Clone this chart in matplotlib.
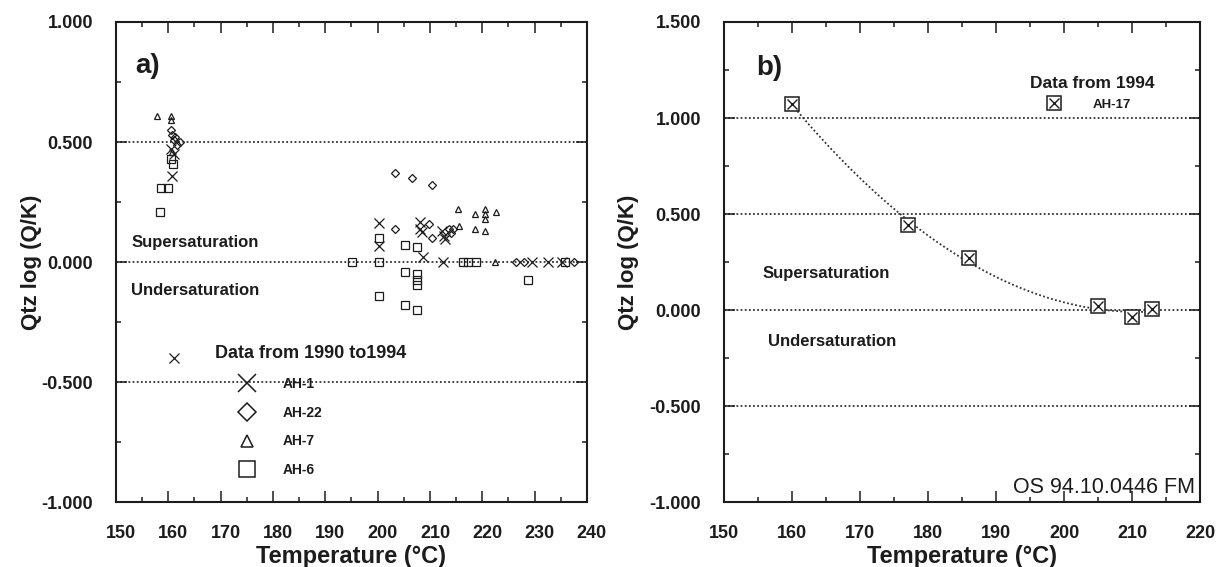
import numpy as np
import matplotlib
matplotlib.use("Agg")
import matplotlib.pyplot as plt
import matplotlib.transforms as mtransforms
from matplotlib.lines import Line2D
from matplotlib.ticker import MultipleLocator, FormatStrFormatter

plt.rcParams['font.family'] = ['Liberation Sans', 'DejaVu Sans']
plt.rcParams['axes.unicode_minus'] = False

INK = '#1c1c1c'

# ---- Panel a: quartz saturation index, wells sampled 1990-1994 ----
ah1_t = [160.5, 161.0, 160.8, 161.1, 200.3, 200.3, 208.1, 208.1, 208.4, 208.6,
         212.3, 212.6, 212.9, 212.5, 229.5, 232.5, 235.2]
ah1_q = [0.47, 0.45, 0.36, -0.40, 0.165, 0.067, 0.168, 0.14, 0.124, 0.022,
         0.13, 0.11, 0.095, 0.0, 0.0, 0.0, 0.0]

ah22_t = [160.5, 160.8, 161.3, 162.2, 161.6, 161.0, 203.3, 206.5, 210.4, 203.3,
          209.9, 210.3, 213.7, 214.4, 214.0, 226.5, 228.0, 237.5]
ah22_q = [0.55, 0.53, 0.52, 0.50, 0.49, 0.51, 0.37, 0.35, 0.32, 0.14,
          0.16, 0.10, 0.14, 0.14, 0.12, 0.0, 0.0, 0.0]

ah7_t = [157.8, 160.5, 160.5, 160.7, 215.4, 215.6, 218.6, 220.5, 220.5, 220.5,
         222.6, 218.6, 220.5, 222.4]
ah7_q = [0.61, 0.61, 0.59, 0.46, 0.22, 0.15, 0.20, 0.22, 0.20, 0.18,
         0.21, 0.14, 0.13, 0.0]

ah6_t = [160.6, 160.9, 158.6, 159.9, 158.4, 195.2, 200.3, 200.3, 200.3, 205.2,
         207.5, 205.2, 207.5, 207.5, 207.5, 205.2, 207.5, 216.4, 217.3, 218.8,
         228.8, 235.8]
ah6_q = [0.43, 0.41, 0.31, 0.31, 0.21, 0.0, 0.10, 0.0, -0.14, 0.07,
         0.064, -0.04, -0.05, -0.073, -0.094, -0.178, -0.197, 0.0, 0.0, 0.0,
         -0.075, 0.0]

# ---- Panel b: AH-17, 1994 ----
ah17_t = [160, 177, 186, 205, 210, 213]
ah17_q = [1.075, 0.445, 0.27, 0.02, -0.035, 0.005]

xlim_a, ylim_a = (150, 240), (-1.0, 1.0)
xlim_b, ylim_b = (150, 220), (-1.0, 1.5)
ref_lines_a = [0.5, 0.0, -0.5]
ref_lines_b = [1.0, 0.5, 0.0, -0.5]

fig = plt.figure(figsize=(12.22, 5.67), dpi=100)
ax_a = fig.add_axes([0.0949, 0.1138, 0.3854, 0.8474])
ax_b = fig.add_axes([0.5925, 0.1138, 0.3895, 0.8474])


def style_axes(ax, xlim, ylim):
    ax.set_xlim(*xlim)
    ax.set_ylim(*ylim)
    ax.xaxis.set_major_locator(MultipleLocator(10))
    ax.xaxis.set_minor_locator(MultipleLocator(5))
    ax.yaxis.set_major_locator(MultipleLocator(0.5))
    ax.yaxis.set_minor_locator(MultipleLocator(0.25))
    ax.yaxis.set_major_formatter(FormatStrFormatter('%.3f'))
    ax.tick_params(which='both', direction='in', top=True, right=True,
                   color=INK, width=1.1, labelcolor=INK)
    ax.tick_params(which='major', length=8, labelsize=13)
    ax.tick_params(axis='x', which='major', pad=16)
    ax.tick_params(axis='y', which='major', pad=16.5)
    ax.tick_params(which='minor', length=3.5)
    for lab in ax.get_xticklabels() + ax.get_yticklabels():
        lab.set_fontweight('bold')
    for sp in ax.spines.values():
        sp.set_linewidth(1.5)
        sp.set_color(INK)
    ax.set_xlabel('Temperature (°C)', fontsize=17, fontweight='bold', color=INK)
    ax.set_ylabel('Qtz log (Q/K)', fontsize=16, fontweight='bold', color=INK)
    ax.xaxis.label.set(va='center')
    ax.yaxis.label.set(va='center')


def ref_lines(ax, levels):
    for lv in levels:
        ax.axhline(lv, color='#333333', lw=1.3, ls=(0, (1, 1.3)), zorder=1)


# ---------- panel a ----------
style_axes(ax_a, xlim_a, ylim_a)
ref_lines(ax_a, ref_lines_a)
ax_a.xaxis.set_label_coords(0.5, -0.113)
ax_a.yaxis.set_label_coords(-0.18, 0.5)

mk = dict(ls='none', color=INK, mfc='none', mew=0.9, zorder=3)
ax_a.plot(ah1_t, ah1_q, marker='x', ms=6.5, **mk)
ax_a.plot(ah22_t, ah22_q, marker='D', ms=4.3, **mk)
ax_a.plot(ah7_t, ah7_q, marker='^', ms=5, **mk)
ax_a.plot(ah6_t, ah6_q, marker='s', ms=6, **mk)

key_a = [Line2D([], [], ls='none', color=INK, mfc='none', mew=1.1, marker='x', ms=13),
         Line2D([], [], ls='none', color=INK, mfc='none', mew=1.1, marker='D', ms=8.7),
         Line2D([], [], ls='none', color=INK, mfc='none', mew=1.1, marker='^', ms=8),
         Line2D([], [], ls='none', color=INK, mfc='none', mew=1.1, marker='s', ms=12)]
leg_a = ax_a.legend(key_a, ['AH-1', 'AH-22', 'AH-7', 'AH-6'],
                    loc='upper left', bbox_to_anchor=(0.210, 0.328),
                    frameon=False, borderpad=0, borderaxespad=0,
                    handlelength=4.6, handletextpad=0.29, labelspacing=1.07,
                    numpoints=1, alignment='left',
                    title='Data from 1990 to1994',
                    title_fontproperties={'weight': 'bold', 'size': 13},
                    prop={'weight': 'bold', 'size': 10})
for t in leg_a.get_texts():
    t.set_color(INK)
leg_a.get_title().set_color(INK)

ax_a.text(0.040, 0.908, 'a)', transform=ax_a.transAxes, fontsize=20,
          fontweight='bold', va='center', ha='left', color=INK)
ax_a.text(0.032, 0.542, 'Supersaturation', transform=ax_a.transAxes,
          fontsize=12, fontweight='bold', va='center', ha='left', color=INK)
ax_a.text(0.032, 0.442, 'Undersaturation', transform=ax_a.transAxes,
          fontsize=12, fontweight='bold', va='center', ha='left', color=INK)

# shift panel-a temperature labels slightly to the right
shift = mtransforms.ScaledTranslation(5 / 100, 0, fig.dpi_scale_trans)
for tick in ax_a.xaxis.get_major_ticks():
    tick.label1.set_transform(tick.label1.get_transform() + shift)

# ---------- panel b ----------
style_axes(ax_b, xlim_b, ylim_b)
ref_lines(ax_b, ref_lines_b)
ax_b.xaxis.set_label_coords(0.5, -0.113)
ax_b.yaxis.set_label_coords(-0.2017, 0.5)

coef = np.polyfit(ah17_t, ah17_q, 2)
t_fit = np.linspace(min(ah17_t), max(ah17_t), 200)
ax_b.plot(t_fit, np.polyval(coef, t_fit), color='#333333', lw=1.3,
          ls=(0, (1, 1.3)), zorder=2)

sq = ax_b.plot(ah17_t, ah17_q, ls='none', marker='s', ms=9.5, mfc='white',
               mec=INK, mew=1.1, zorder=4)[0]
cr = ax_b.plot(ah17_t, ah17_q, ls='none', marker='x', ms=6.5, color=INK,
               mew=1.0, zorder=5)[0]
leg_b = ax_b.legend([(sq, cr)], ['AH-17'], loc='upper left',
                    bbox_to_anchor=(0.643, 0.887), frameon=False,
                    borderpad=0, borderaxespad=0, handlelength=3.64,
                    handletextpad=1.14, labelspacing=0.55, numpoints=1,
                    alignment='left', title='Data from 1994',
                    title_fontproperties={'weight': 'bold', 'size': 12.5},
                    prop={'weight': 'bold', 'size': 9.5})
for t in leg_b.get_texts():
    t.set_color(INK)
leg_b.get_title().set_color(INK)

ax_b.text(0.067, 0.905, 'b)', transform=ax_b.transAxes, fontsize=20,
          fontweight='bold', va='center', ha='left', color=INK)
ax_b.text(0.080, 0.4776, 'Supersaturation', transform=ax_b.transAxes,
          fontsize=12, fontweight='bold', va='center', ha='left', color=INK)
ax_b.text(0.0924, 0.334, 'Undersaturation', transform=ax_b.transAxes,
          fontsize=12, fontweight='bold', va='center', ha='left', color=INK)
ax_b.text(0.9895, 0.032, 'OS 94.10.0446 FM', transform=ax_b.transAxes,
          fontsize=15.5, va='center', ha='right', color=INK)

fig.savefig('out.png', dpi=100, facecolor='white')
